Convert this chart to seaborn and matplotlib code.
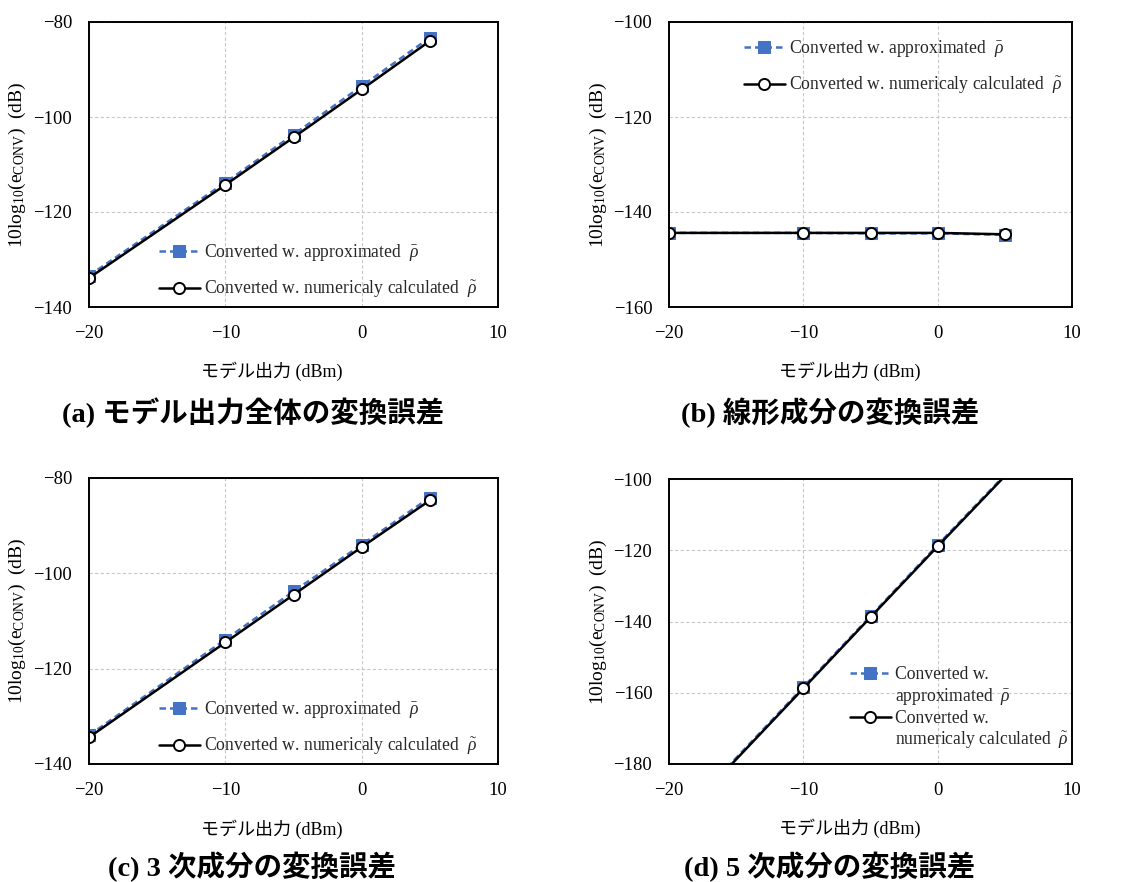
import numpy as np
import matplotlib
matplotlib.use("Agg")
import matplotlib.pyplot as plt
from matplotlib.lines import Line2D
import seaborn as sns

# ---- data ----
x_dbm = [-20, -10, -5, 0, 5]

total_approx = [-133.4, -113.8, -103.7, -93.5, -83.3]
total_numeric = [-133.9, -114.3, -104.3, -94.2, -84.0]

linear_approx = [-144.4, -144.4, -144.5, -144.5, -144.8]
linear_numeric = [-144.4, -144.4, -144.4, -144.4, -144.7]

third_approx = [-134.0, -113.9, -103.8, -94.0, -84.1]
third_numeric = [-134.4, -114.5, -104.5, -94.5, -84.7]

fifth_approx = [-198.2, -158.4, -138.5, -118.5, -98.9]
fifth_numeric = [-198.6, -158.8, -138.8, -118.9, -99.2]

captions = ["(a) モデル出力全体の変換誤差", "(b) 線形成分の変換誤差",
            "(c) 3 次成分の変換誤差", "(d) 5 次成分の変換誤差"]
ylims = [(-140, -80), (-160, -100), (-140, -80), (-180, -100)]
label_approx = r"Converted w. approximated  $\bar{\rho}$"
label_numeric = r"Converted w. numericaly calculated  $\tilde{\rho}$"
xlabel = "モデル出力 (dBm)"
ylabel = r"10log$_{10}$(e$_{\rm CONV}$)  (dB)"

BLUE = "#4472C4"

sns.set_theme(style="white")
plt.rcParams["font.family"] = ["Liberation Serif", "Noto Sans CJK JP"]
plt.rcParams["mathtext.fontset"] = "custom"
plt.rcParams["mathtext.rm"] = "Liberation Serif"
plt.rcParams["mathtext.it"] = "Liberation Serif:italic"
plt.rcParams["axes.unicode_minus"] = True

fig = plt.figure(figsize=(11.27, 8.82), dpi=100)
W, H = 1127, 882


def px_axes(left, top, right, bottom):
    return fig.add_axes([left / W, 1 - bottom / H, (right - left) / W, (bottom - top) / H])


axes = [
    px_axes(89, 22, 498, 307),
    px_axes(669, 22, 1072, 307),
    px_axes(89, 478, 498, 764),
    px_axes(669, 479, 1072, 764),
]
series = [(total_approx, total_numeric), (linear_approx, linear_numeric),
          (third_approx, third_numeric), (fifth_approx, fifth_numeric)]

for i, (ax, (ya, yn), yl) in enumerate(zip(axes, series, ylims)):
    lo, hi = yl
    mask_a = [lo <= v <= hi for v in ya]
    mask_n = [lo <= v <= hi for v in yn]
    sns.lineplot(x=x_dbm, y=ya, ax=ax, color=BLUE, linestyle=(0, (2.6, 1.6)),
                 linewidth=1.8, marker="s", markersize=9, markerfacecolor=BLUE,
                 markeredgecolor=BLUE, markevery=mask_a, label=label_approx)
    sns.lineplot(x=x_dbm, y=yn, ax=ax, color="black", linestyle="-",
                 linewidth=1.8, marker="o", markersize=8, markerfacecolor="white",
                 markeredgecolor="black", markeredgewidth=1.4, markevery=mask_n,
                 label=label_numeric)

    ax.set_xlim(-20, 10)
    ax.set_ylim(lo, hi)
    ax.set_xticks([-20, -10, 0, 10])
    ax.set_yticks(np.arange(lo, hi + 1, 20))
    ax.grid(True, color="#c8c8c8", linestyle=(0, (3, 2)), linewidth=0.8)
    ax.set_axisbelow(True)
    ax.tick_params(axis="both", length=0, labelsize=13.5, colors="black")
    ax.tick_params(axis="x", pad=13)
    ax.tick_params(axis="y", pad=12)
    for sp in ax.spines.values():
        sp.set_color("black")
        sp.set_linewidth(1.4)

    ax.set_xlabel(xlabel, fontsize=13, color="black")
    ax.set_ylabel(ylabel, fontsize=14, color="black")
    ax.xaxis.set_label_coords(0.448, -0.193)
    ax.yaxis.set_label_coords(-0.15, 0.5)

    handles, labels = ax.get_legend_handles_labels()
    ax.get_legend().remove()
    common = dict(frameon=False, fontsize=12.7, handlelength=2.3, handletextpad=0.25,
                  borderpad=0, borderaxespad=0)
    if i in (0, 2):
        ax.legend(handles, labels, loc="lower left", bbox_to_anchor=(0.171, 0.025),
                  labelspacing=0.9, **common)
    elif i == 1:
        ax.legend(handles, labels, loc="upper left", bbox_to_anchor=(0.186, 0.945),
                  labelspacing=0.9, **common)
    else:
        blank = Line2D([], [], linestyle="none")
        ax.legend([handles[0], blank, handles[1], blank],
                  ["Converted w.", r"approximated  $\bar{\rho}$",
                   "Converted w.", r"numericaly calculated  $\tilde{\rho}$"],
                  loc="upper left", bbox_to_anchor=(0.449, 0.345),
                  labelspacing=0.18, **common)

cap_pos = [(253, 413), (830, 413), (252, 867), (830, 867)]
for text, (cx, cy) in zip(captions, cap_pos):
    fig.text(cx / W, 1 - cy / H, text, ha="center", va="center", fontsize=20.5,
             fontweight="bold", color="black")

fig.savefig("out.png", dpi=100, facecolor="white")
